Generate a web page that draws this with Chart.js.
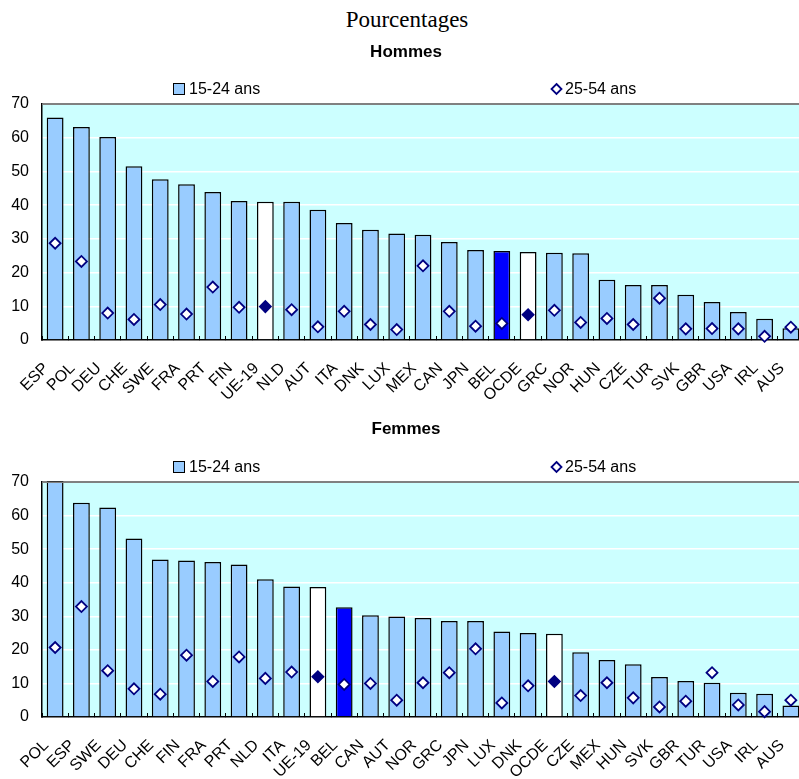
<!DOCTYPE html>
<html>
<head>
<meta charset="utf-8">
<script src="https://cdn.jsdelivr.net/npm/chart.js@4.4.1/dist/chart.umd.min.js"></script>
<style>
  html, body { margin: 0; padding: 0; background: #fff; overflow: hidden; width: 799px; height: 779px; }
  #title { position: absolute; left: 0; top: 7px; width: 814px; text-align: center;
           font-family: "Liberation Serif", "Times New Roman", serif; font-size: 23px; line-height: 26px; color: #000; }
  .box { position: absolute; left: 0; width: 806px; height: 370px; }
  #b1 { top: 40px; }
  #b2 { top: 410px; }
</style>
</head>
<body>
<div id="title">Pourcentages</div>
<div class="box" id="b1"><canvas id="c1" width="806" height="370"></canvas></div>
<div class="box" id="b2"><canvas id="c2" width="806" height="370"></canvas></div>
<script>
// ---- Data ----
const seriesLabels = ["15-24 ans", "25-54 ans"];
const yTicks = [0, 10, 20, 30, 40, 50, 60, 70];

const categoriesH = ["ESP","POL","DEU","CHE","SWE","FRA","PRT","FIN","UE-19","NLD","AUT","ITA","DNK","LUX",
                     "MEX","CAN","JPN","BEL","OCDE","GRC","NOR","HUN","CZE","TUR","SVK","GBR","USA","IRL","AUS"];
const youthH = [66.0, 63.2, 60.2, 51.5, 47.7, 46.2, 43.9, 41.2, 41.0, 41.0, 38.6, 34.7, 32.7, 31.6,
                31.2, 29.1, 26.7, 26.4, 26.1, 25.9, 25.7, 17.9, 16.3, 16.3, 13.4, 11.3, 8.3, 6.3, 3.5];
const primeH = [28.7, 23.3, 8.0, 6.1, 10.5, 7.7, 15.7, 9.7, 9.9, 9.0, 3.9, 8.5, 4.6, 3.1,
                22.0, 8.5, 4.1, 4.9, 7.5, 8.8, 5.2, 6.4, 4.6, 12.4, 3.3, 3.4, 3.3, 1.1, 3.8];

const categoriesF = ["POL","ESP","SWE","DEU","CHE","FIN","FRA","PRT","NLD","ITA","UE-19","BEL","CAN","AUT",
                     "NOR","GRC","JPN","LUX","DNK","OCDE","CZE","MEX","HUN","SVK","GBR","TUR","USA","IRL","AUS"];
const youthF = [70.2, 63.8, 62.4, 53.2, 46.9, 46.6, 46.2, 45.4, 41.0, 38.9, 38.7, 32.7, 30.3, 29.9,
                29.5, 28.6, 28.6, 25.5, 25.0, 24.8, 19.3, 17.0, 15.7, 11.9, 10.7, 10.2, 7.2, 6.9, 3.4];
const primeF = [20.7, 32.9, 13.8, 8.4, 6.8, 18.4, 10.6, 17.9, 11.5, 13.4, 12.0, 9.7, 10.0, 5.0,
                10.2, 13.2, 20.3, 4.2, 9.3, 10.6, 6.4, 10.2, 5.7, 3.0, 4.7, 13.2, 3.6, 1.6, 5.0];

// ---- Styles ----
const BAR = "#99CCFF", BAR_BEL = "#0000FF", BAR_AGG = "#FFFFFF";
const NAVY = "#000080", PLOT_BG = "#CCFFFF";
const SANS = "'Liberation Sans', Arial, sans-serif";
const aggregates = ["UE-19", "OCDE"];

function barColor(c) { return c === "BEL" ? BAR_BEL : (aggregates.includes(c) ? BAR_AGG : BAR); }
function markColor(c) { return aggregates.includes(c) ? NAVY : "#FFFFFF"; }

const bgPlugin = {
  id: "plotBg",
  beforeDraw(chart) {
    const a = chart.chartArea, ctx = chart.ctx;
    ctx.save();
    ctx.fillStyle = PLOT_BG;
    ctx.fillRect(a.left, a.top, a.right - a.left, a.bottom - a.top);
    ctx.restore();
  }
};

const legendPlugin = {
  id: "customLegend",
  afterDraw(chart) {
    const ctx = chart.ctx, a = chart.chartArea;
    const y = a.top - 15;
    ctx.save();
    ctx.font = "16px " + SANS;
    ctx.textBaseline = "middle";
    // item 1: square
    ctx.fillStyle = BAR;
    ctx.fillRect(173.5, y - 5.5, 11, 11);
    ctx.strokeStyle = "#000"; ctx.lineWidth = 1;
    ctx.strokeRect(173.5, y - 5.5, 11, 11);
    ctx.fillStyle = "#000";
    ctx.fillText(chart.data.datasets[0].label, 189, y + 1);
    // item 2: diamond
    const cx = 556.5, r = 5;
    ctx.beginPath();
    ctx.moveTo(cx, y - r); ctx.lineTo(cx + r, y); ctx.lineTo(cx, y + r); ctx.lineTo(cx - r, y); ctx.closePath();
    ctx.fillStyle = "#fff"; ctx.fill();
    ctx.strokeStyle = NAVY; ctx.lineWidth = 1.8; ctx.stroke();
    ctx.fillStyle = "#000";
    ctx.fillText(chart.data.datasets[1].label, 565, y + 1);
    // top frame line
    ctx.strokeStyle = "#808080"; ctx.lineWidth = 1;
    ctx.beginPath(); ctx.moveTo(a.left, a.top + 0.5); ctx.lineTo(a.right, a.top + 0.5); ctx.stroke();
    ctx.restore();
  }
};

function makeChart(id, title, cats, youth, prime, titlePad, xAxisH) {
  return new Chart(document.getElementById(id), {
    type: "bar",
    data: {
      labels: cats,
      datasets: [
        {
          type: "bar",
          label: seriesLabels[0],
          data: youth,
          backgroundColor: cats.map(barColor),
          borderColor: "#000",
          borderWidth: 1.5,
          borderSkipped: "bottom",
          barPercentage: 0.64,
          categoryPercentage: 1.0,
          clip: false,
          order: 2
        },
        {
          type: "line",
          label: seriesLabels[1],
          data: prime,
          showLine: false,
          pointStyle: "rectRot",
          pointRadius: 5.5,
          pointHoverRadius: 5.5,
          pointBorderColor: NAVY,
          pointBorderWidth: 1.8,
          pointBackgroundColor: cats.map(markColor),
          clip: false,
          order: 1
        }
      ]
    },
    options: {
      responsive: false,
      animation: false,
      devicePixelRatio: 1,
      layout: { autoPadding: false, padding: { left: 8, right: 2, top: 0, bottom: 0 } },
      plugins: {
        legend: { display: false },
        tooltip: { enabled: false },
        title: {
          display: true,
          text: title,
          color: "#000",
          font: { family: SANS, size: 17, weight: "bold" },
          padding: titlePad
        }
      },
      scales: {
        x: {
          offset: true,
          afterFit: s => { s.height = xAxisH; s.paddingLeft = 0; s.paddingRight = 0; },
          grid: { display: true, drawOnChartArea: false, drawTicks: true, tickLength: -4, color: "#000", lineWidth: 1 },
          border: { display: true, color: "#000", width: 1.5 },
          ticks: {
            color: "#000",
            font: { family: SANS, size: 16 },
            minRotation: 45,
            maxRotation: 45,
            autoSkip: false,
            padding: 23,
            labelOffset: -9
          }
        },
        y: {
          min: 0,
          max: 70,
          afterFit: s => { s.width = 34; s.paddingTop = 0; s.paddingBottom = 0; },
          afterBuildTicks: s => { s.ticks = yTicks.map(v => ({ value: v })); },
          grid: {
            drawTicks: false,
            color: ctx => (ctx.tick && ctx.tick.value === 70) ? "#808080" : "#FFFFFF",
            lineWidth: 1.5
          },
          border: { display: true, color: "#000", width: 1.5 },
          ticks: { color: "#000", font: { family: SANS, size: 16 }, padding: 13, stepSize: 10 }
        }
      }
    },
    plugins: [bgPlugin, legendPlugin]
  });
}

makeChart("c1", "Hommes", categoriesH, youthH, primeH, { top: 2, bottom: 41.6 }, 70);
makeChart("c2", "Femmes", categoriesF, youthF, primeF, { top: 8.8, bottom: 42.8 }, 63);
</script>
</body>
</html>
